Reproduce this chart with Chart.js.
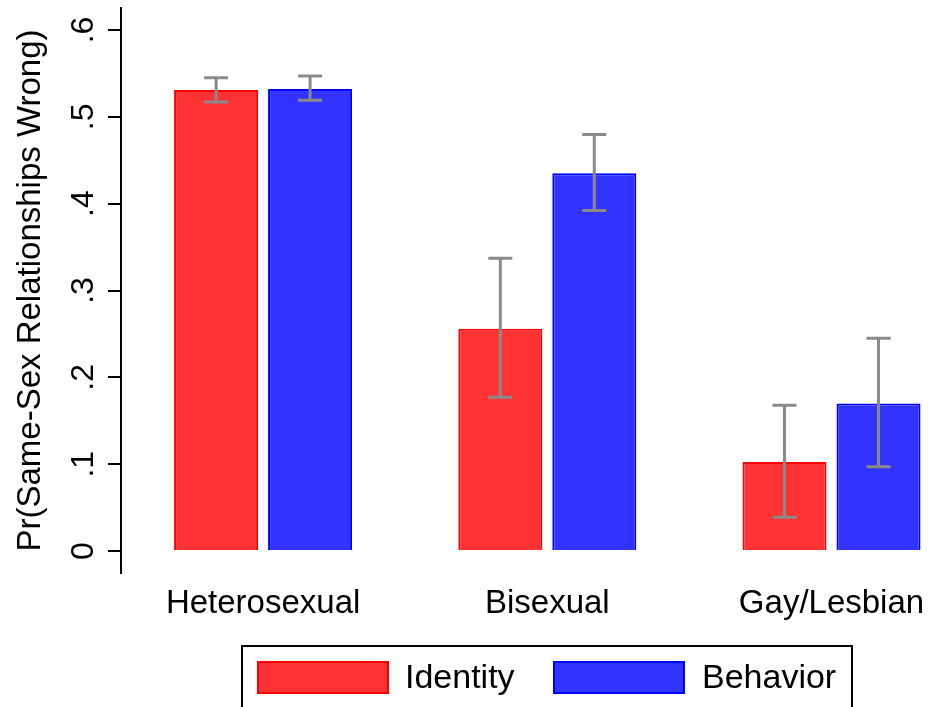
<!DOCTYPE html>
<html>
<head>
<meta charset="utf-8">
<script src="https://cdn.jsdelivr.net/npm/chart.js@4"></script>
<style>
  html, body { margin: 0; padding: 0; background: #fff; overflow: hidden; }
  #wrap { width: 929px; height: 707px; }
</style>
</head>
<body>
<div id="wrap"><canvas id="c" width="929" height="707"></canvas></div>
<script>
// Groups and series
const groups = ['Heterosexual', 'Bisexual', 'Gay/Lesbian'];
const seriesNames = ['Identity', 'Behavior'];

// Predicted probabilities with confidence bounds
const identity     = [0.531, 0.256, 0.1025];
const identityLow  = [0.517, 0.177, 0.039];
const identityHigh = [0.545, 0.337, 0.168];

const behavior     = [0.532, 0.435, 0.170];
const behaviorLow  = [0.519, 0.392, 0.097];
const behaviorHigh = [0.547, 0.4795, 0.245];

// Y axis ticks
const yTicks      = [0, 0.1, 0.2, 0.3, 0.4, 0.5, 0.6];
const yTickLabels = ['0', '.1', '.2', '.3', '.4', '.5', '.6'];
const yTitle      = 'Pr(Same-Sex Relationships Wrong)';

const FONT = '"Liberation Sans", Arial, Helvetica, sans-serif';
const RED_FILL = '#ff3333', RED_LINE = '#ff0000';
const BLUE_FILL = '#3333ff', BLUE_LINE = '#0000ff';
const ERR_COLOR = '#8a8a8a';

const toPoints = arr => arr.map((v, i) => ({ x: i, y: v }));

// Error bars drawn from each dataset's low/high bounds
const errorBars = {
  id: 'errorBars',
  afterDatasetsDraw(chart) {
    const ctx = chart.ctx;
    const ys = chart.scales.y;
    chart.data.datasets.forEach((ds, di) => {
      const meta = chart.getDatasetMeta(di);
      meta.data.forEach((bar, i) => {
        const x = bar.x;
        const yl = ys.getPixelForValue(ds.errLow[i]);
        const yh = ys.getPixelForValue(ds.errHigh[i]);
        ctx.save();
        ctx.strokeStyle = ERR_COLOR;
        ctx.lineWidth = 3;
        ctx.lineCap = 'butt';
        ctx.beginPath();
        ctx.moveTo(x, yl); ctx.lineTo(x, yh);
        ctx.moveTo(x - 12, yl); ctx.lineTo(x + 12, yl);
        ctx.moveTo(x - 12, yh); ctx.lineTo(x + 12, yh);
        ctx.stroke();
        ctx.restore();
      });
    });
  }
};

// Rotated y tick labels, y axis title and the boxed legend
const decorations = {
  id: 'decorations',
  afterDraw(chart) {
    const ctx = chart.ctx;
    const ys = chart.scales.y;
    ctx.save();
    ctx.fillStyle = '#000';
    ctx.textAlign = 'center';
    ctx.textBaseline = 'middle';
    ctx.font = '32px ' + FONT;
    yTicks.forEach((v, i) => {
      const y = ys.getPixelForValue(v);
      ctx.save();
      ctx.translate(84, y);
      ctx.rotate(-Math.PI / 2);
      ctx.fillText(yTickLabels[i], 0, 0);
      ctx.restore();
    });
    ctx.font = '33px ' + FONT;
    ctx.save();
    ctx.translate(31, ys.getPixelForValue(0.3));
    ctx.rotate(-Math.PI / 2);
    ctx.fillText(yTitle, 0, 0);
    ctx.restore();

    // legend
    ctx.strokeStyle = '#000';
    ctx.lineWidth = 2;
    ctx.strokeRect(242, 646, 610, 80);
    const items = [
      { x: 257, fill: RED_FILL, line: RED_LINE, tx: 405 },
      { x: 553, fill: BLUE_FILL, line: BLUE_LINE, tx: 702 }
    ];
    items.forEach((it, i) => {
      ctx.fillStyle = it.fill;
      ctx.fillRect(it.x, 661, 132, 33);
      ctx.strokeStyle = it.line;
      ctx.lineWidth = 2;
      ctx.strokeRect(it.x + 1, 662, 130, 31);
      ctx.fillStyle = '#000';
      ctx.textAlign = 'left';
      ctx.textBaseline = 'middle';
      ctx.font = '34px ' + FONT;
      ctx.fillText(seriesNames[i], it.tx, 679);
    });
    ctx.restore();
  }
};

new Chart(document.getElementById('c'), {
  type: 'bar',
  data: {
    datasets: [
      {
        label: seriesNames[0],
        data: toPoints(identity),
        errLow: identityLow, errHigh: identityHigh,
        backgroundColor: RED_FILL, borderColor: RED_LINE, borderWidth: 2,
        categoryPercentage: 0.6614, barPercentage: 0.8936
      },
      {
        label: seriesNames[1],
        data: toPoints(behavior),
        errLow: behaviorLow, errHigh: behaviorHigh,
        backgroundColor: BLUE_FILL, borderColor: BLUE_LINE, borderWidth: 2,
        categoryPercentage: 0.6614, barPercentage: 0.8936
      }
    ]
  },
  options: {
    responsive: false,
    animation: false,
    devicePixelRatio: 1,
    layout: { padding: { top: 8, right: 0, bottom: 0, left: 0 } },
    plugins: { legend: { display: false }, tooltip: { enabled: false } },
    scales: {
      x: {
        type: 'linear',
        offset: false,
        min: -0.5,
        max: 2.343,
        afterBuildTicks: s => { s.ticks = groups.map((g, i) => ({ value: i })); },
        afterFit: s => { s.height = 134; s.paddingLeft = 0; s.paddingRight = 0; },
        grid: { display: false, drawTicks: false },
        border: { display: false },
        ticks: {
          autoSkip: false,
          maxRotation: 0,
          padding: 11,
          color: '#000',
          font: { family: FONT, size: 33 },
          callback: v => groups[v]
        }
      },
      y: {
        min: -0.0253,
        max: 0.6253,
        afterBuildTicks: s => { s.ticks = yTicks.map(v => ({ value: v })); },
        afterFit: s => { s.width = 121; s.paddingTop = 0; s.paddingBottom = 0; },
        grid: {
          display: true, drawOnChartArea: false, drawTicks: true,
          tickLength: 13, color: '#000', lineWidth: 2
        },
        border: { display: true, color: '#000', width: 2 },
        ticks: { display: false }
      }
    }
  },
  plugins: [errorBars, decorations]
});
</script>
</body>
</html>
